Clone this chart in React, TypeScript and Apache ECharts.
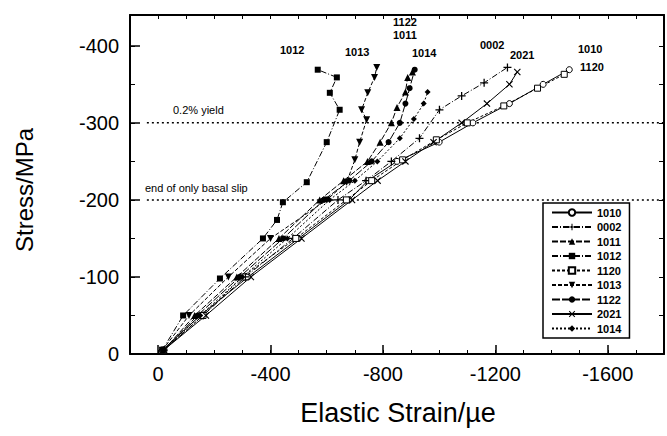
import React, { useEffect, useRef } from "react";
import * as echarts from "echarts";

// ---------------- data ----------------
const seriesNames = ["1010", "0002", "1011", "1012", "1120", "1013", "1122", "2021", "1014"];

const s1010: number[][] = [[-15, -5], [-150, -50], [-320, -100], [-500, -150], [-680, -200], [-746, -225], [-850, -250], [-1000, -275], [-1120, -300], [-1250, -325], [-1370, -350], [-1463, -369]];
const s0002: number[][] = [[-20, -5], [-160, -50], [-310, -100], [-480, -150], [-640, -200], [-740, -225], [-830, -250], [-930, -280], [-1001, -317], [-1080, -335], [-1160, -352], [-1243, -372]];
const s1011: number[][] = [[-20, -5], [-130, -50], [-280, -100], [-430, -150], [-575, -200], [-660, -225], [-745, -250], [-790, -275], [-830, -300], [-850, -320], [-880, -340], [-888, -359], [-905, -366]];
const s1012: number[][] = [[-15, -5], [-89, -50], [-220, -98], [-373, -150], [-423, -174], [-444, -197], [-529, -223], [-600, -275], [-646, -317], [-611, -339], [-636, -359], [-568, -369]];
const s1120: number[][] = [[-20, -5], [-160, -50], [-300, -100], [-490, -150], [-670, -200], [-760, -225], [-870, -252], [-990, -278], [-1100, -300], [-1230, -322], [-1350, -345], [-1445, -363]];
const s1013: number[][] = [[-15, -5], [-110, -50], [-250, -100], [-400, -150], [-600, -200], [-671, -223], [-700, -252], [-717, -275], [-742, -304], [-724, -317], [-746, -339], [-770, -359], [-778, -372]];
const s1122: number[][] = [[-20, -5], [-140, -50], [-290, -100], [-445, -150], [-590, -200], [-680, -225], [-760, -250], [-820, -275], [-860, -300], [-880, -325], [-895, -345], [-913, -369]];
const s2021: number[][] = [[-20, -5], [-170, -50], [-330, -100], [-510, -150], [-690, -200], [-781, -225], [-880, -250], [-980, -275], [-1080, -300], [-1170, -325], [-1250, -350], [-1278, -366]];
const s1014: number[][] = [[-20, -5], [-150, -50], [-300, -100], [-460, -150], [-610, -200], [-700, -225], [-780, -250], [-860, -280], [-910, -305], [-945, -325], [-959, -340]];

const seriesData = [s1010, s0002, s1011, s1012, s1120, s1013, s1122, s2021, s1014];

const xTickLabels = [0, -400, -800, -1200, -1600];
const yTickLabels = [0, -100, -200, -300, -400];
const yMinorTicks = [0, -50, -100, -150, -200, -250, -300, -350, -400];

const yieldLine: number[][] = [[40, -300], [-1800, -300]];
const basalLine: number[][] = [[40, -200], [-1800, -200]];

// ---------------- styles ----------------
const PLUS = "path://M-0.8,-5H0.8V-0.8H5V0.8H0.8V5H-0.8V0.8H-5V-0.8H-0.8Z";
const CROSS = "path://M-4.5,-3.5L-3.5,-4.5L0,-1L3.5,-4.5L4.5,-3.5L1,0L4.5,3.5L3.5,4.5L0,1L-3.5,4.5L-4.5,3.5L-1,0Z";

const styleFor: Record<string, any> = {
  "1010": { symbol: "circle", size: 6, open: true, dash: "solid" },
  "0002": { symbol: PLUS, size: 8, open: false, dash: [6, 2, 1, 2] },
  "1011": { symbol: "triangle", size: 7, open: false, dash: [6, 2] },
  "1012": { symbol: "rect", size: 6, open: false, dash: [6, 2, 1, 2] },
  "1120": { symbol: "rect", size: 6, open: true, dash: [3, 2] },
  "1013": { symbol: "triangle", size: 7, open: false, dash: [4, 2], rotate: 180 },
  "1122": { symbol: "circle", size: 6, open: false, dash: [8, 2] },
  "2021": { symbol: CROSS, size: 7, open: false, dash: "solid" },
  "1014": { symbol: "diamond", size: 6, open: false, dash: [2, 2] },
};

export default function App() {
  const ref = useRef<HTMLDivElement>(null);
  useEffect(() => {
    if (!ref.current) return;
    const chart = echarts.init(ref.current, undefined, { renderer: "svg" });
    const font = "'Liberation Sans', Arial, Helvetica, sans-serif";

    const dataSeries = seriesNames.map((name, i) => {
      const st = styleFor[name];
      return {
        name,
        type: "line",
        data: seriesData[i],
        symbol: st.symbol,
        symbolSize: st.size,
        symbolRotate: st.rotate || 0,
        showAllSymbol: true,
        lineStyle: { color: "#000", width: 1, type: st.dash },
        itemStyle: st.open
          ? { color: "#fff", borderColor: "#000", borderWidth: 1 }
          : { color: "#000", borderColor: "#000", borderWidth: 0 },
        z: 3,
      };
    });

    const refLine = (data: number[][]) => ({
      type: "line",
      data,
      symbol: "none",
      lineStyle: { color: "#000", width: 1.5, type: [2, 3] },
      silent: true,
      z: 2,
      tooltip: { show: false },
    });

    const xBase = {
      type: "value",
      min: -1800,
      max: 100,
      inverse: true,
      interval: 100,
      splitLine: { show: false },
      gridIndex: 0,
    };
    const yBase = {
      type: "value",
      min: -440,
      max: 0,
      inverse: true,
      splitLine: { show: false },
      gridIndex: 0,
    };

    chart.setOption({
      animation: false,
      backgroundColor: "#fff",
      grid: { left: 130, right: 2, top: 15, bottom: 82, show: false },
      xAxis: [
        {
          ...xBase,
          position: "bottom",
          axisLine: { show: true, onZero: false, lineStyle: { color: "#000", width: 2 } },
          axisTick: { show: true, inside: true, length: 4, lineStyle: { color: "#000", width: 1 } },
          axisLabel: {
            show: true,
            color: "#000",
            fontSize: 20,
            fontFamily: font,
            margin: 10,
            formatter: (v: number) => (xTickLabels.indexOf(v) >= 0 ? String(v) : ""),
          },
        },
        {
          ...xBase,
          position: "bottom",
          axisLine: { show: false, onZero: false },
          axisTick: { show: true, inside: true, length: 9, customValues: xTickLabels, lineStyle: { color: "#000", width: 1.5 } },
          axisLabel: { show: false },
        },
        {
          ...xBase,
          position: "top",
          axisLine: { show: true, onZero: false, lineStyle: { color: "#000", width: 2 } },
          axisTick: { show: true, inside: true, length: 4, lineStyle: { color: "#000", width: 1 } },
          axisLabel: { show: false },
        },
      ],
      yAxis: [
        {
          ...yBase,
          position: "left",
          axisLine: { show: true, onZero: false, lineStyle: { color: "#000", width: 2 } },
          axisTick: { show: true, inside: true, length: 5, customValues: yMinorTicks, lineStyle: { color: "#000", width: 1 } },
          axisLabel: { show: true, color: "#000", fontSize: 20, fontFamily: font, margin: 11, customValues: yTickLabels },
        },
        {
          ...yBase,
          position: "left",
          axisLine: { show: false, onZero: false },
          axisTick: { show: true, inside: true, length: 10, customValues: yTickLabels, lineStyle: { color: "#000", width: 1.5 } },
          axisLabel: { show: false },
        },
        {
          ...yBase,
          position: "right",
          axisLine: { show: true, onZero: false, lineStyle: { color: "#000", width: 2 } },
          axisTick: { show: true, inside: true, length: 5, customValues: yMinorTicks, lineStyle: { color: "#000", width: 1 } },
          axisLabel: { show: false },
        },
      ],
      legend: {
        data: seriesNames,
        orient: "vertical",
        left: 543,
        top: 203,
        itemWidth: 40,
        itemHeight: 8,
        itemGap: 3.5,
        padding: [4, 8, 4, 8],
        borderColor: "#000",
        borderWidth: 1.5,
        backgroundColor: "#fff",
        textStyle: { color: "#000", fontSize: 11, fontWeight: "bold", fontFamily: font },
      },
      graphic: [
        { type: "text", x: 12, y: 190, rotation: Math.PI / 2, style: { text: "Stress/MPa", fontSize: 24, fontFamily: font, fill: "#000", align: "center", verticalAlign: "top" } },
        { type: "text", x: 398, y: 413, style: { text: "Elastic Strain/\u00b5e", fontSize: 27, fontFamily: font, fill: "#000", align: "center", verticalAlign: "middle" } },
        { type: "text", x: 173, y: 104, style: { text: "0.2% yield", fontSize: 11, fontFamily: font, fill: "#000" } },
        { type: "text", x: 145, y: 182, style: { text: "end of only basal slip", fontSize: 11, fontFamily: font, fill: "#000" } },
        { type: "text", x: 280, y: 44, style: { text: "1012", fontSize: 11, fontWeight: "bold", fontFamily: font, fill: "#000" } },
        { type: "text", x: 345, y: 46, style: { text: "1013", fontSize: 11, fontWeight: "bold", fontFamily: font, fill: "#000" } },
        { type: "text", x: 393, y: 16, style: { text: "1122", fontSize: 11, fontWeight: "bold", fontFamily: font, fill: "#000" } },
        { type: "text", x: 393, y: 29, style: { text: "1011", fontSize: 11, fontWeight: "bold", fontFamily: font, fill: "#000" } },
        { type: "text", x: 412, y: 47, style: { text: "1014", fontSize: 11, fontWeight: "bold", fontFamily: font, fill: "#000" } },
        { type: "text", x: 480, y: 39, style: { text: "0002", fontSize: 11, fontWeight: "bold", fontFamily: font, fill: "#000" } },
        { type: "text", x: 510, y: 49, style: { text: "2021", fontSize: 11, fontWeight: "bold", fontFamily: font, fill: "#000" } },
        { type: "text", x: 578, y: 43, style: { text: "1010", fontSize: 11, fontWeight: "bold", fontFamily: font, fill: "#000" } },
        { type: "text", x: 580, y: 61, style: { text: "1120", fontSize: 11, fontWeight: "bold", fontFamily: font, fill: "#000" } },
      ],
      series: [refLine(yieldLine), refLine(basalLine), ...dataSeries],
    });
    return () => chart.dispose();
  }, []);
  return <div ref={ref} style={{ position: "fixed", left: 0, top: 0, width: 667, height: 436 }} />;
}
